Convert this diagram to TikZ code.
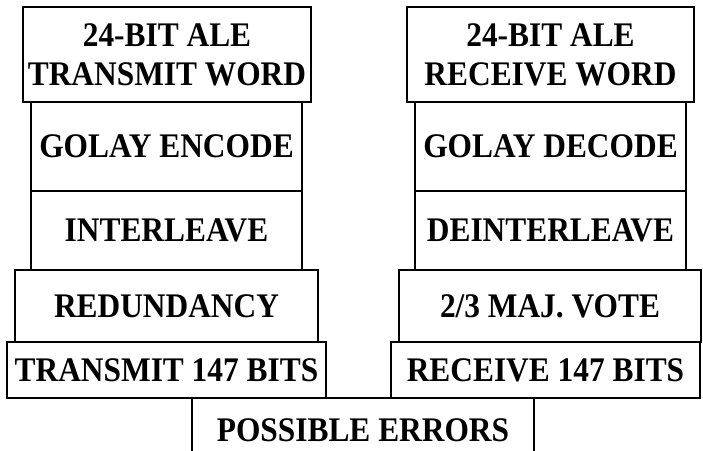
\documentclass[tikz,border=0pt]{standalone}
\usepackage[rgb]{xcolor}
\usepackage{fontspec}
\setmainfont{Liberation Serif}[FakeStretch=0.91]
\usepackage{tikz}

\begin{document}
\begin{tikzpicture}[x=1pt, y=-1pt,
  stage/.style = {draw, line width=2.4pt, inner sep=0pt, align=center,
    font=\fontsize{34.5}{39}\selectfont\bfseries}]

% stacked boxes of the ALE word chain, transmit left and receive right
\clip (0,0) rectangle (703,450);

% transmit side
\path
(167,54.5) node [stage, minimum width=288, minimum height=95] (txword) {24-BIT ALE\\TRANSMIT WORD}
(166.5,146.5) node [stage, minimum width=271, minimum height=89] (encode) {GOLAY ENCODE}
(166.5,230.5) node [stage, minimum width=271, minimum height=79] (interleave) {INTERLEAVE}
(166.5,306) node [stage, minimum width=303, minimum height=72] (redundancy) {REDUNDANCY}
(166.5,370) node [stage, minimum width=319, minimum height=56] (txbits) {TRANSMIT 147 BITS};

% receive side
\path
(550.5,54.5) node [stage, minimum width=287, minimum height=95] (rxword) {24-BIT ALE\\RECEIVE WORD}
(550.5,146.5) node [stage, minimum width=271, minimum height=89] (decode) {GOLAY DECODE}
(550.5,230.5) node [stage, minimum width=271, minimum height=79] (deinterleave) {DEINTERLEAVE}
(550,306) node [stage, minimum width=302, minimum height=72] (vote) {2/3 MAJ. VOTE}
(545.5,370) node [stage, minimum width=309, minimum height=56] (rxbits) {RECEIVE 147 BITS};

%% channel, cut off at the bottom
\path
(363,430) node [stage, minimum width=342, minimum height=64] (errors) {POSSIBLE ERRORS};

\end{tikzpicture}
\end{document}
